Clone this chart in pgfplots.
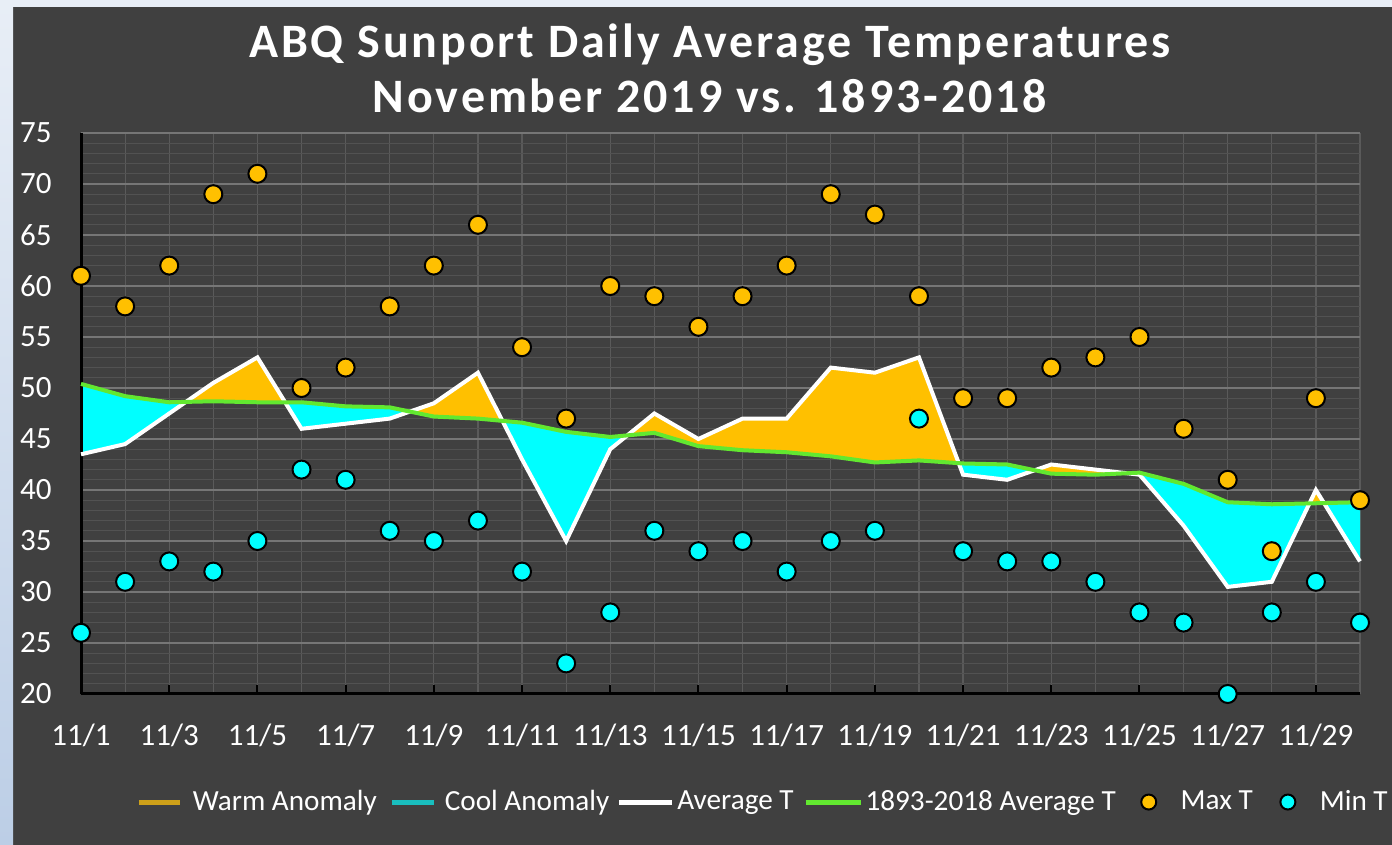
\documentclass[border=0pt]{standalone}
\usepackage{pgfplots}
\pgfplotsset{compat=1.18}
\usepgfplotslibrary{fillbetween}
\usepackage{pgfplotstable}
\usepackage{fontspec}
\setmainfont{Carlito}
\newfontfamily\titlefont[LetterSpace=6]{Carlito}
\definecolor{bg}{RGB}{64,64,64}
\definecolor{warmc}{RGB}{255,192,0}
\definecolor{coolc}{RGB}{0,255,255}
\definecolor{normc}{RGB}{98,232,48}
\definecolor{warmleg}{RGB}{205,160,25}
\definecolor{coolleg}{RGB}{25,190,190}
\definecolor{gridmaj}{RGB}{118,118,118}
\definecolor{gridmin}{RGB}{82,82,82}
\definecolor{gridx}{RGB}{90,90,90}
\definecolor{striptop}{RGB}{232,238,246}
\definecolor{stripbot}{RGB}{188,206,230}

\pgfplotstableread{
day maxt mint avg norm
1 61 26 43.5 50.4
2 58 31 44.5 49.2
3 62 33 47.5 48.6
4 69 32 50.5 48.7
5 71 35 53 48.6
6 50 42 46 48.6
7 52 41 46.5 48.2
8 58 36 47 48.1
9 62 35 48.5 47.2
10 66 37 51.5 47.0
11 54 32 43 46.6
12 47 23 35 45.7
13 60 28 44 45.2
14 59 36 47.5 45.6
15 56 34 45 44.3
16 59 35 47 43.9
17 62 32 47 43.7
18 69 35 52 43.3
19 67 36 51.5 42.7
20 59 47 53 42.9
21 49 34 41.5 42.6
22 49 33 41 42.5
23 52 33 42.5 41.6
24 53 31 42 41.5
25 55 28 41.5 41.7
26 46 27 36.5 40.6
27 41 20 30.5 38.8
28 34 28 31 38.6
29 49 31 40 38.7
30 39 27 33 38.8
}\data

\begin{document}
\begin{tikzpicture}
\begin{axis}[
  set layers,
  at={(40.5pt,75.5pt)}, anchor=south west,
  scale only axis, width=639.5pt, height=280.5pt,
  xmin=1, xmax=30, ymin=20, ymax=75,
  axis lines*=left,
  axis line style={black, line width=1.5pt},
  xtick={1,3,...,29},
  xticklabels={11/1,11/3,11/5,11/7,11/9,11/11,11/13,11/15,11/17,11/19,11/21,11/23,11/25,11/27,11/29},
  minor xtick={2,4,...,30},
  ytick={20,25,...,75},
  minor y tick num=4,
  xmajorgrids, xminorgrids, ymajorgrids, yminorgrids,
  major x grid style={gridx, line width=0.6pt},
  minor x grid style={gridx, line width=0.6pt},
  major y grid style={gridmaj, line width=0.8pt},
  minor y grid style={gridmin, line width=0.5pt},
  tick align=inside,
  major tick length=4.5pt, minor tick length=0pt,
  xtick style={black, line width=1pt},
  ytick style={draw=none},
  tick label style={text=white, font=\fontsize{15.5}{18}\selectfont},
  /pgf/number format/assume math mode=true,
  yticklabel style={anchor=east, inner sep=0pt, xshift=-14.5pt},
  xticklabel style={anchor=base, inner sep=0pt, yshift=-25.75pt},
  clip=false,
  legend columns=-1,
  legend style={at={(0.5325,-0.1926)}, anchor=center, draw=none, fill=none,
    text=white, font=\fontsize{14.6}{17}\selectfont,
    nodes={inner sep=0pt},
    /tikz/every even column/.append style={column sep=0pt},
    /tikz/every odd column/.append style={column sep=0pt}},
]
\begin{pgfonlayer}{axis background}
\fill[bg] (rel axis cs:-0.063331,-0.269162) rectangle (rel axis cs:1.025020,1.237077);
\shade[top color=striptop, bottom color=stripbot] (rel axis cs:-0.063331,-0.269162) rectangle (rel axis cs:-0.053167,1.237077);
\fill[striptop] (rel axis cs:-0.053167,1.224599) rectangle (rel axis cs:1.025020,1.237077);
\node[anchor=base, text=white, font=\fontsize{24}{28}\selectfont\titlefont\bfseries, inner sep=0pt] at (rel axis cs:0.491790,1.133690) {ABQ Sunport Daily Average Temperatures};
\node[anchor=base, text=white, font=\fontsize{24}{28}\selectfont\titlefont\bfseries, inner sep=0pt] at (rel axis cs:0.491790,1.035651) {November 2019 vs. 1893-2018};
\end{pgfonlayer}
\addplot[draw=none, name path=avg, forget plot] table[x=day, y=avg] {\data};
\addplot[draw=none, name path=norm, forget plot] table[x=day, y=norm] {\data};
\addplot[fill=warmc, draw=none, forget plot] fill between[of=avg and norm, split, on layer=axis ticks, every even segment/.style={fill=coolc}];
\addplot[white, line width=2pt, forget plot] table[x=day, y=avg] {\data};
\addplot[normc, line width=2pt, forget plot] table[x=day, y=norm] {\data};
\addplot[only marks, mark=*, mark size=4.5pt, mark options={fill=warmc, draw=black, line width=1pt}, forget plot] table[x=day, y=maxt] {\data};
\addplot[only marks, mark=*, mark size=4.5pt, mark options={fill=coolc, draw=black, line width=1pt}, forget plot] table[x=day, y=mint] {\data};

\addlegendimage{legend image code/.code={\path[draw=none,fill=none] (0pt,0pt) -- (27pt,0pt); \draw[line width=2.5pt, warmleg] (0pt,0pt) -- (20.5pt,0pt);}}
\addlegendimage{legend image code/.code={\path[draw=none,fill=none] (-7.5pt,0pt) -- (26.5pt,0pt); \draw[line width=2.5pt, coolleg] (0pt,0pt) -- (21pt,0pt);}}
\addlegendimage{legend image code/.code={\path[draw=none,fill=none] (-5pt,0pt) -- (29pt,0pt); \draw[line width=2.5pt, white] (0pt,0pt) -- (26.5pt,0pt);}}
\addlegendimage{legend image code/.code={\path[draw=none,fill=none] (-6pt,0pt) -- (30pt,0pt); \draw[line width=2.5pt, normc] (0pt,0pt) -- (27.5pt,0pt);}}
\addlegendimage{legend image code/.code={\path[draw=none,fill=none] (-12.5pt,0pt) -- (20pt,0pt); \fill[warmc, draw=black, line width=1pt] (4pt,0pt) circle (3.75pt);}}
\addlegendimage{legend image code/.code={\path[draw=none,fill=none] (-13.5pt,0pt) -- (20pt,0pt); \fill[coolc, draw=black, line width=1pt] (4pt,0pt) circle (3.75pt);}}
\legend{Warm Anomaly, Cool Anomaly, Average T, 1893-2018 Average T, Max T, Min T}
\end{axis}
\pgfresetboundingbox
\useasboundingbox (0,0) rectangle (696pt,422.5pt);
\end{tikzpicture}
\end{document}
